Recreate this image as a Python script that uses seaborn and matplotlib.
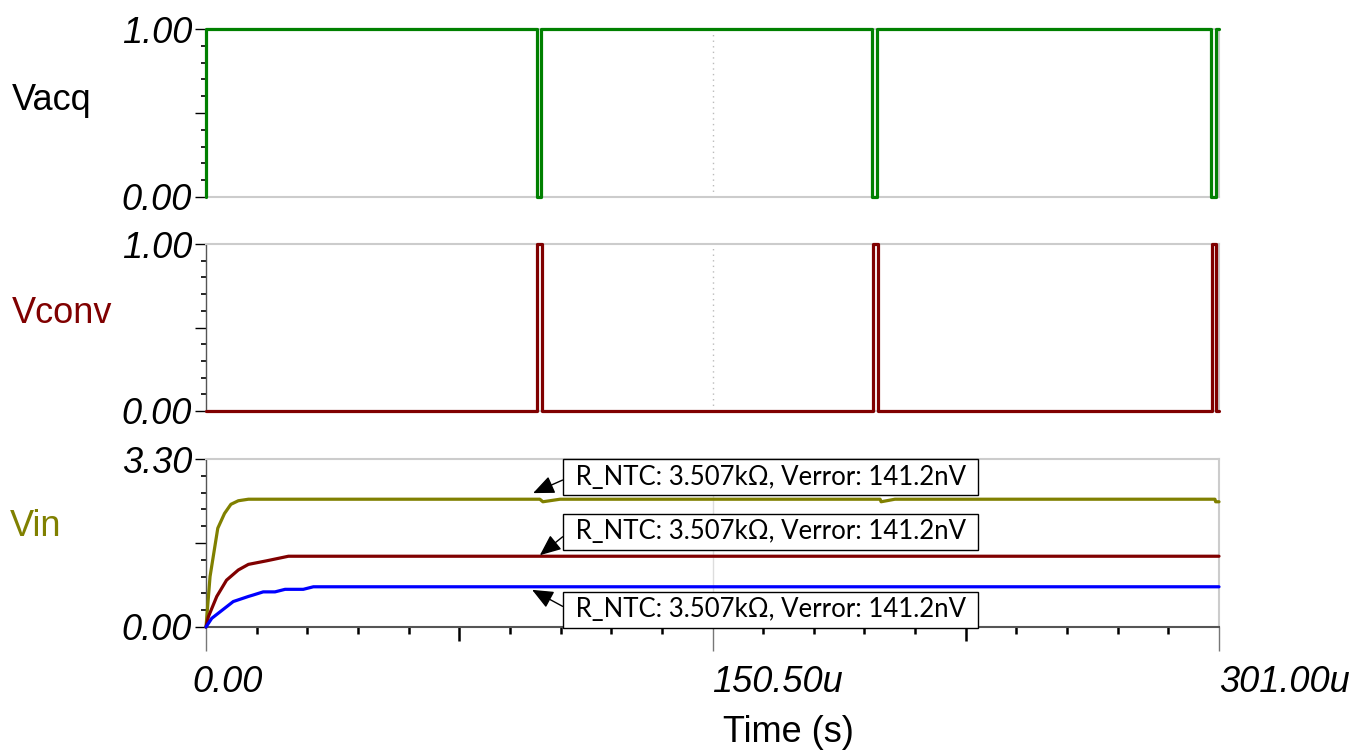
import matplotlib
matplotlib.use("Agg")
import matplotlib.pyplot as plt
import matplotlib.transforms as mtransforms
import pandas as pd
import seaborn as sns

sns.set_style("white", rc={"xtick.bottom": True, "ytick.left": True,
                           "text.color": "black", "xtick.color": "black",
                           "ytick.color": "black", "axes.labelcolor": "black"})
plt.rcParams["font.family"] = ["Liberation Sans", "DejaVu Sans"]

W, H = 1371, 752
T_END = 301.0  # time axis end, microseconds

# Vacq low intervals (us)
vacq_low_start = [98.4, 198.0, 298.6]
vacq_low_end = [99.6, 199.3, 300.1]

# Vconv high pulses (us)
vconv_high_start = [98.5, 198.2, 298.8]
vconv_high_end = [99.8, 199.8, 300.2]

# Vin traces (time in us, volts)
olive_t = [0, 1.2, 3.5, 5.5, 7.4, 9.6, 12.6, 99.2, 100.1, 105.2,
           200.3, 200.6, 204.7, 299.8, 300.0, 301.0]
olive_v = [0, 0.99, 1.94, 2.23, 2.41, 2.48, 2.51, 2.51, 2.46, 2.51,
           2.51, 2.46, 2.51, 2.51, 2.46, 2.46]
red_t = [0, 0.7, 3.2, 6.1, 9.6, 12.6, 18.0, 24.5, 301.0]
red_v = [0, 0.20, 0.60, 0.92, 1.12, 1.23, 1.30, 1.39, 1.39]
blue_t = [0, 1.7, 8.1, 12.6, 14.1, 17.0, 20.5, 23.5, 28.9, 31.9, 301.0]
blue_v = [0, 0.17, 0.50, 0.60, 0.63, 0.69, 0.69, 0.74, 0.74, 0.79, 0.79]

# Cursor annotations: arrow tip (t, V), box centre V
note_text = "R_NTC: 3.507k\u03a9, Verror: 141.2nV"
note_tip_t = [97.2, 99.2, 96.9]
note_tip_v = [2.63, 1.41, 0.73]
note_box_v = [2.94, 1.87, 0.34]
note_left_t = 107.8

x_ticks = [0, 150.5, 301.0]
x_labels = ["0.00", "150.50u", "301.00u"]

GREEN = "#008000"
DARKRED = "#800000"
OLIVE = "#808000"
BLUE = "#0000ff"
LIGHT = "#cccccc"
DARK = "#555555"


def pulse_train(base, level, starts, ends, first_jump):
    t = [0.0, 0.0]
    v = [0.0, first_jump]
    for s, e in zip(starts, ends):
        t += [s, s, e, e]
        v += [base, level, level, base]
    t.append(T_END)
    v.append(base)
    return pd.DataFrame({"t": t, "v": v})


vacq_df = pulse_train(1.0, 0.0, vacq_low_start, vacq_low_end, 1.0)
vconv_df = pulse_train(0.0, 1.0, vconv_high_start, vconv_high_end, 0.0)

fig = plt.figure(figsize=(W / 100, H / 100), dpi=100)


def make_axes(top_px, bottom_px):
    return fig.add_axes([206 / W, 1 - bottom_px / H, 1013 / W, (bottom_px - top_px) / H])


ax1 = make_axes(29, 197)
ax2 = make_axes(244, 411)
ax3 = make_axes(459, 627)

tick_font = dict(fontsize=26, fontstyle="italic", color="black")

for ax, ymax, ystep in [(ax1, 1.0, 0.1), (ax2, 1.0, 0.1), (ax3, 3.3, 0.33)]:
    ax.set_xlim(0, T_END)
    ax.set_ylim(0, ymax)
    ax.set_yticks([0, ymax / 2, ymax], labels=["0.00", "", f"{ymax:.2f}"], **tick_font)
    ax.set_yticks([ystep * k for k in range(1, 10) if k != 5], minor=True)
    ax.tick_params(axis="y", which="both", left=True)
    ax.tick_params(axis="y", which="major", length=8, width=1, color="black", pad=2)
    ax.tick_params(axis="y", which="minor", length=3.6, width=1.2, color="black")
    for side in ["top", "right", "bottom"]:
        ax.spines[side].set_color(LIGHT)
        ax.spines[side].set_linewidth(1.5)
    ax.spines["left"].set_color(DARK)
    ax.spines["left"].set_linewidth(1)
    ax.set_facecolor("white")

for ax in (ax1, ax2):
    ax.set_xticks([])
    ax.axvline(150.5, color="#bbbbbb", lw=1, ls=(0, (1, 3)), zorder=0)

ax3.axvline(150.5, color="#dddddd", lw=1, zorder=0)
ax3.spines["bottom"].set_color(DARK)
ax3.spines["bottom"].set_linewidth(1.5)

# Time axis ticks: long major, medium at quarters, short minors
ax3.set_xticks(x_ticks, labels=x_labels, **tick_font)
ax3.set_xticks([15.05 * k for k in range(1, 20) if k not in (5, 10, 15)], minor=True)
ax3.tick_params(axis="x", which="both", bottom=True)
ax3.tick_params(axis="x", which="major", length=17, width=1, color="#777777", pad=10)
ax3.tick_params(axis="x", which="minor", length=5, width=1.8, color="black")
for lbl in ax3.get_xticklabels():
    lbl.set_horizontalalignment("left")
offset = mtransforms.ScaledTranslation(-14 / 100, 0, fig.dpi_scale_trans)
first = ax3.get_xticklabels()[0]
first.set_transform(first.get_transform() + offset)

sec = ax3.secondary_xaxis("bottom")
sec.set_xticks([75.25, 225.75], labels=["", ""])
sec.tick_params(axis="x", bottom=True, length=10, width=1.8, color="black")
sec.spines["bottom"].set_visible(False)

# Traces
lw = 2.3
line_kw = dict(estimator=None, sort=False, clip_on=False, lw=lw, zorder=4)
sns.lineplot(data=vacq_df, x="t", y="v", ax=ax1, color=GREEN, **line_kw)
sns.lineplot(data=vconv_df, x="t", y="v", ax=ax2, color=DARKRED, **line_kw)
sns.lineplot(x=olive_t, y=olive_v, ax=ax3, color=OLIVE, **line_kw)
sns.lineplot(x=red_t, y=red_v, ax=ax3, color=DARKRED, **line_kw)
sns.lineplot(x=blue_t, y=blue_v, ax=ax3, color=BLUE, **line_kw)

for ax in (ax1, ax2, ax3):
    ax.set_xlabel("")
    ax.set_ylabel("")

# Cursor readouts, arrows leaving from the left edge of each box
for tip_t, tip_v, box_v in zip(note_tip_t, note_tip_v, note_box_v):
    ax3.annotate(
        " " + note_text + " ", xy=(tip_t, tip_v), xytext=(note_left_t, box_v),
        textcoords="data", ha="left", va="center", fontsize=18.5, family="Lato",
        color="black",
        bbox=dict(boxstyle="square,pad=0.22", fc="white", ec="black", lw=1),
        arrowprops=dict(arrowstyle="-|>,head_length=0.7,head_width=0.3",
                        color="black", lw=1, shrinkA=0, shrinkB=0,
                        relpos=(0.0, 0.5)),
        annotation_clip=False, zorder=6,
    )

# Trace names
fig.text(12 / W, 1 - 100 / H, "Vacq", fontsize=26, color="black", va="center", ha="left")
fig.text(12 / W, 1 - 313 / H, "Vconv", fontsize=26, color=DARKRED, va="center", ha="left")
fig.text(10 / W, 1 - 527 / H, "Vin", fontsize=26, color=OLIVE, va="center", ha="left")
fig.text(788 / W, 1 - 733 / H, "Time (s)", fontsize=26, color="black", va="center", ha="center")

fig.savefig("out.png", dpi=100, facecolor="white")
